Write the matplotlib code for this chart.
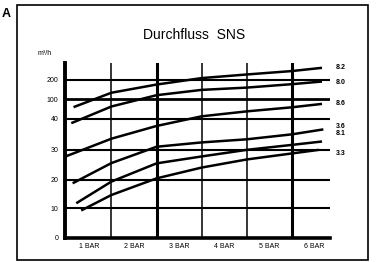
import matplotlib
matplotlib.use("Agg")
import matplotlib.pyplot as plt
import numpy as np
from matplotlib.patches import Rectangle

plt.rcParams['font.family'] = ['Liberation Sans Narrow', 'Liberation Sans', 'DejaVu Sans']

# pressure (bar) and flow (m3/h)
bar_pts = [
    [0.66, 1.5, 2.5, 3.5, 4.5, 5.5, 6.17],
    [0.61, 1.5, 2.5, 3.5, 4.5, 5.5, 6.17],
    [0.50, 1.5, 2.5, 3.5, 4.5, 5.5, 6.17],
    [0.64, 1.5, 2.5, 3.5, 4.5, 5.5, 6.20],
    [0.72, 1.5, 2.5, 3.5, 4.5, 5.5, 6.17],
    [0.83, 1.5, 2.5, 3.5, 4.5, 5.5, 6.10],
]
flow = [
    [75, 133, 176, 210, 229, 247, 264],
    [38.5, 77, 120, 148, 160, 178, 192],
    [27.8, 33.5, 37.6, 46.8, 62, 74.5, 85],
    [18.7, 25.5, 30.9, 32.3, 33.3, 34.9, 36.5],
    [11.7, 19.3, 25.4, 27.7, 29.9, 31.5, 32.6],
    [9.2, 14.6, 20.4, 24, 26.7, 28.7, 29.9],
]
curve_names = ["8.2", "8.0", "8.6", "3.6", "8.1", "3.3"]
label_y = [268, 189, 87, 37.3, 35.2, 28.7]

y_ticks = [0, 10, 20, 30, 40, 100, 200]
x_ticks = [1, 2, 3, 4, 5, 6]
x_labels = ["1 BAR", "2 BAR", "3 BAR", "4 BAR", "5 BAR", "6 BAR"]

# the printed axis is squeezed above 40
_vals = np.array([0, 10, 20, 30, 40, 100, 200, 300], dtype=float)
_pos = np.array([0, 29.5, 58, 88, 119, 138.5, 157.5, 176.5])


def fwd(v):
    return np.interp(v, _vals, _pos)


def inv(p):
    return np.interp(p, _pos, _vals)


fig = plt.figure(figsize=(3.76, 2.62), dpi=100)
ax = fig.add_axes([0.174, 0.093, 0.704, 0.667])
ax.set_yscale('function', functions=(fwd, inv))
ax.set_xlim(0.48, 6.35)
ax.set_ylim(0, 290)

for v in y_ticks[1:]:
    ax.axhline(v, color='black', lw=2.0 if v == 100 else 1.5, zorder=1)
for xv in [1.5, 2.5, 3.5, 4.5, 5.5]:
    ax.axvline(xv, color='black', lw=2.2 if xv in (2.5, 5.5) else 1.1, zorder=1)

for xs, ys in zip(bar_pts, flow):
    ax.plot(xs, ys, color='black', lw=1.8, solid_capstyle='butt', zorder=3)

for name, ly in zip(curve_names, label_y):
    ax.text(6.48, ly, name, fontsize=5, fontweight='bold', va='center', ha='left',
            clip_on=False)

for s in ['top', 'right']:
    ax.spines[s].set_visible(False)
ax.spines['left'].set_linewidth(2.8)
ax.spines['bottom'].set_linewidth(2.6)

ax.set_yticks(y_ticks)
ax.set_yticklabels([str(v) for v in y_ticks])
ax.yaxis.set_minor_locator(plt.NullLocator())
ax.set_xticks(x_ticks)
ax.set_xticklabels(x_labels)
ax.tick_params(axis='both', length=0, labelsize=5, pad=5)
ax.tick_params(axis='x', pad=4)

fig.text(0.516, 0.866, "Durchfluss  SNS", fontsize=10, ha='center', va='center')
fig.text(0.10, 0.795, "m³/h", fontsize=5, ha='left', va='center')
fig.text(0.004, 0.945, "A", fontsize=9, fontweight='bold', ha='left', va='center')

fig.patches.append(Rectangle((0.045, 0.008), 0.934, 0.973, transform=fig.transFigure,
                             fill=False, lw=1.2, edgecolor='black'))

fig.savefig("out.png", dpi=100)
